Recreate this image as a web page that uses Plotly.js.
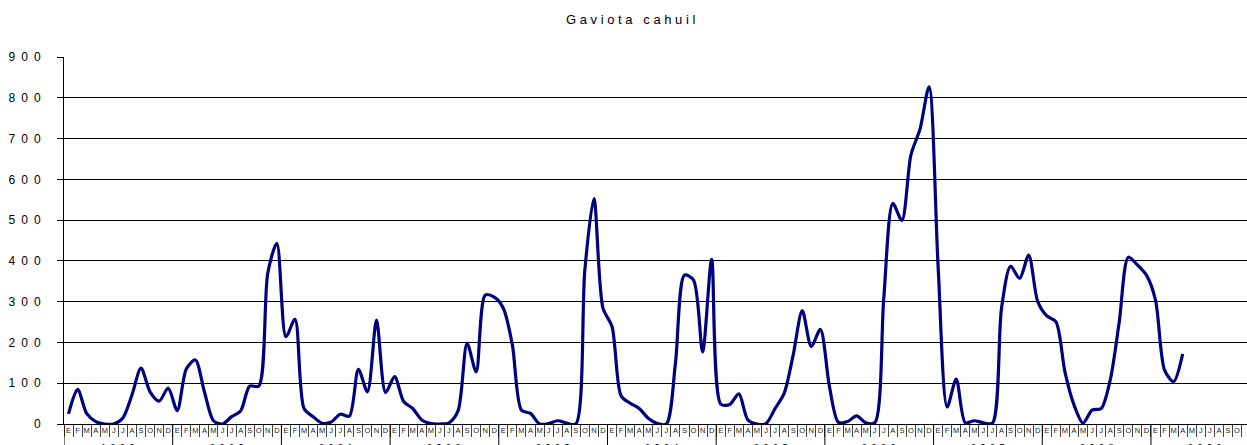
<!DOCTYPE html>
<html>
<head>
<meta charset="utf-8">
<script src="https://cdn.plot.ly/plotly-3.0.1.min.js"></script>
<style>html,body{margin:0;padding:0;background:#fff;}#chart{width:1247px;height:445px;}</style>
</head>
<body>
<div id="chart"></div>
<script>
// Month letters (Spanish) and years
const monthLetters = ["E","F","M","A","M","J","J","A","S","O","N","D"];
const years = ["1999","2000","2001","2002","2003","2004","2005","2006","2007","2008","2009"];

// Monthly counts, one array per year (Jan..Dec)
const y1999 = [25, 85, 26, 6, 0, 0, 15, 71, 137, 79, 56, 88];
const y2000 = [33, 135, 157, 79, 8, 0, 18, 32, 93, 93, 371, 443];
const y2001 = [214, 257, 38, 18, 2, 5, 24, 19, 134, 79, 255, 77];
const y2002 = [116, 55, 38, 10, 1, 0, 3, 32, 198, 128, 316, 311];
const y2003 = [284, 194, 34, 26, 0, 1, 8, 2, 0, 378, 553, 284];
const y2004 = [239, 69, 51, 38, 14, 1, 0, 149, 365, 353, 177, 404];
const y2005 = [49, 48, 74, 10, 0, 1, 38, 75, 169, 278, 190, 232];
const y2006 = [92, 4, 6, 20, 3, 3, 308, 541, 499, 660, 723, 827];
const y2007 = [386, 42, 110, 3, 8, 3, 2, 284, 387, 357, 414, 300];
const y2008 = [265, 251, 128, 47, 2, 34, 38, 108, 251, 409, 390, 365];
const y2009 = [304, 132, 104, 172];

const yTickVals = [0,100,200,300,400,500,600,700,800,900];
const yTickText = ["0","1\u20020\u20020","2\u20020\u20020","3\u20020\u20020","4\u20020\u20020","5\u20020\u20020","6\u20020\u20020","7\u20020\u20020","8\u20020\u20020","9\u20020\u20020"];

const values = [].concat(y1999,y2000,y2001,y2002,y2003,y2004,y2005,y2006,y2007,y2008,y2009);
const xIdx = values.map((v,i)=>i);

const nMonths = years.length*12;
const boundaries = [];
for (let i=0;i<=nMonths;i++) boundaries.push(i-0.5);
const centers = [], centerText = [];
for (let i=0;i<nMonths;i++){ centers.push(i); centerText.push(monthLetters[i%12]); }

const xRange = [-0.5, 130.1];

const shapes = years.map((yr,k)=>({
  type:'line', xref:'x', yref:'paper', x0:12*k-0.5, x1:12*k-0.5, y0:0, y1:-0.07,
  line:{color:'#000', width:1}
}));
const annotations = years.map((yr,k)=>({
  xref:'x', yref:'paper', x:12*k+5.5, y:-0.043, yanchor:'top', xanchor:'center',
  text: yr.split('').join('\u2002'), showarrow:false,
  font:{family:'Liberation Sans, Arial, sans-serif', size:9, color:'#000'}
}));

const trace = {
  x: xIdx, y: values, type:'scatter', mode:'lines',
  line:{color:'#000080', width:3.2, shape:'spline', smoothing:0.8},
  xaxis:'x', yaxis:'y', hoverinfo:'skip'
};
const dummy = {x:[0], y:[null], xaxis:'x2', yaxis:'y', type:'scatter', mode:'lines', showlegend:false, hoverinfo:'skip'};

const layout = {
  width:1247, height:445,
  margin:{l:64, r:0, t:57, b:21},
  paper_bgcolor:'#fff', plot_bgcolor:'#fff',
  showlegend:false,
  font:{family:'Liberation Sans, Arial, sans-serif', color:'#000'},
  title:{text:'G a v i o t a &nbsp; c a h u i l', x:0.479, xref:'paper', xanchor:'center', y:0.957, yref:'container', yanchor:'middle',
    font:{family:'Liberation Sans, Arial, sans-serif', size:13, color:'#000'}},
  xaxis:{range:xRange, tickmode:'array', tickvals:boundaries, ticktext:boundaries.map(()=>''),
    ticks:'outside', ticklen:12, tickcolor:'#444', tickwidth:1, showgrid:false, zeroline:false,
    showline:true, linecolor:'#000', linewidth:1, automargin:false, fixedrange:true},
  xaxis2:{range:xRange, overlaying:'x', anchor:'y', side:'bottom', tickmode:'array', tickvals:centers, ticktext:centerText,
    ticks:'', showgrid:false, zeroline:false, showline:false, automargin:false,
    tickfont:{family:'Liberation Sans, Arial, sans-serif', size:7.5, color:'#222'}, ticklabelstandoff:0},
  yaxis:{range:[0,900], tickmode:'array', tickvals:yTickVals, ticktext:yTickText,
    ticks:'outside', ticklen:6, tickcolor:'#000', showgrid:true, gridcolor:'#000', gridwidth:1,
    zeroline:false, showline:true, linecolor:'#000', linewidth:1, automargin:false,
    ticklabelstandoff:14, tickfont:{family:'Liberation Sans, Arial, sans-serif', size:12, color:'#000'}},
  shapes:shapes, annotations:annotations
};

Plotly.newPlot('chart', [trace, dummy], layout, {displayModeBar:false, staticPlot:true});
</script>
</body>
</html>
